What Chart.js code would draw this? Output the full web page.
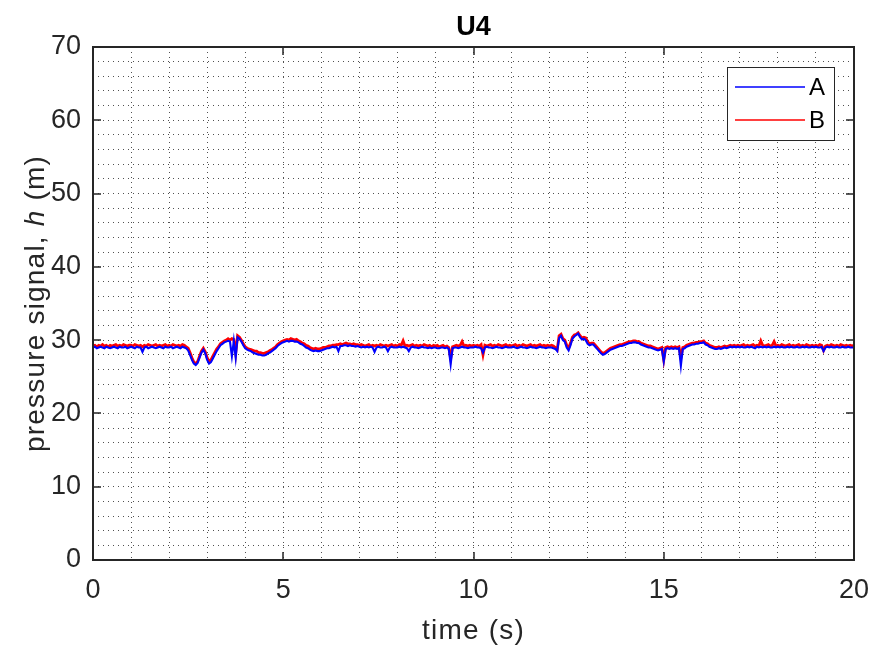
<!DOCTYPE html>
<html>
<head>
<meta charset="utf-8">
<script src="https://cdn.jsdelivr.net/npm/chart.js@4.4.1/dist/chart.umd.min.js"></script>
<style>
  html, body { margin: 0; padding: 0; background: #fff; }
  #wrap { width: 872px; height: 650px; }
</style>
</head>
<body>
<div id="wrap"><canvas id="chart" width="872" height="650"></canvas></div>
<script>
// Pressure signal at U4, two sensors, sampled every 0.05 s from 0 to 20 s
const chartTitle = 'U4';
const seriesNames = ['A', 'B'];
const seriesColors = ['#0000ff', '#ff0000'];
const sampleStep = 0.05;
const xTicksMajor = [0, 5, 10, 15, 20];
const yTicksMajor = [0, 10, 20, 30, 40, 50, 60, 70];

// sensor A (blue), one row per second
const valuesA = [
  29.0,29.1,28.9,29.0,29.1,29.0,28.9,29.1,29.0,28.9,29.0,29.1,29.0,28.9,29.1,29.0,29.0,29.1,28.9,29.0,
  29.1,29.0,28.9,29.1,29.0,29.0,28.4,29.0,29.1,28.9,29.0,29.1,29.0,28.9,29.0,29.1,29.0,28.9,29.1,29.0,
  29.0,29.1,28.9,29.0,29.1,29.0,28.9,29.1,29.0,28.9,28.6,28.0,27.3,26.8,26.6,26.9,27.6,28.3,28.7,28.2,
  27.3,26.8,27.0,27.5,28.0,28.5,28.9,29.3,29.5,29.7,29.8,29.9,29.8,27.8,29.9,27.6,30.4,30.2,29.8,29.3,
  28.9,28.7,28.6,28.5,28.3,28.2,28.1,28.0,28.0,27.9,27.9,28.0,28.2,28.3,28.5,28.7,28.9,29.2,29.4,29.6,
  29.7,29.8,29.9,29.8,29.9,29.9,29.8,29.8,29.7,29.5,29.4,29.2,29.0,28.9,28.7,28.6,28.5,28.6,28.5,28.5,
  28.6,28.7,28.8,28.9,28.9,29.0,29.1,29.0,29.1,28.5,29.2,29.2,29.3,29.3,29.2,29.3,29.2,29.2,29.1,29.2,
  29.1,29.0,29.1,29.0,29.1,29.0,29.1,29.0,28.4,29.0,29.1,29.0,29.0,29.1,29.0,28.5,29.0,29.1,29.0,29.0,
  29.0,29.1,29.0,29.1,29.0,28.9,28.5,29.0,29.1,29.0,29.0,28.9,29.0,29.1,29.0,29.0,28.9,29.0,28.9,29.0,
  29.0,28.9,28.9,29.0,29.0,28.9,29.0,28.8,26.7,28.9,29.0,29.0,28.9,29.0,29.1,29.0,29.0,28.9,29.0,29.0,
  29.0,29.1,29.0,29.0,28.9,28.3,29.0,29.1,29.0,29.0,28.9,29.0,29.1,29.0,29.0,28.9,29.0,29.1,29.0,29.0,
  29.0,29.1,29.0,28.9,29.0,29.1,29.0,29.0,28.9,29.0,29.1,29.0,29.0,28.9,29.0,29.1,29.0,29.0,28.9,29.0,
  29.0,29.0,28.9,28.8,28.5,30.3,30.6,30.0,29.8,29.0,28.6,29.3,30.2,30.5,30.7,30.9,30.4,30.1,30.2,30.0,
  29.5,29.3,29.4,29.4,29.1,28.8,28.5,28.2,28.0,28.1,28.3,28.5,28.7,28.8,28.9,29.0,29.1,29.2,29.2,29.3,
  29.4,29.5,29.6,29.6,29.7,29.7,29.6,29.6,29.4,29.3,29.2,29.1,29.0,29.0,28.9,28.8,28.7,28.6,28.7,28.8,
  27.1,28.8,28.9,28.8,28.9,28.8,28.9,28.8,28.9,26.5,28.8,28.9,29.1,29.2,29.3,29.4,29.4,29.5,29.5,29.6,
  29.6,29.7,29.4,29.3,29.1,29.0,28.9,28.8,28.8,28.9,28.8,28.9,29.0,28.9,29.0,29.1,29.0,29.1,29.0,29.1,
  29.0,29.1,29.0,29.0,29.1,29.0,29.1,29.0,28.9,29.1,29.0,29.1,29.0,29.1,29.0,29.1,29.0,29.0,29.1,29.0,
  29.1,29.0,29.1,29.0,29.0,29.1,29.0,29.1,29.0,29.0,29.1,29.0,29.0,29.1,29.0,29.1,29.0,29.0,29.1,29.0,
  29.1,29.0,29.0,29.1,28.5,29.0,29.1,29.0,29.1,29.0,29.0,29.1,29.0,29.0,29.1,29.0,29.0,29.1,29.0,29.0,
  29.0
];

// sensor B (red), one row per second
const valuesB = [
  29.2,29.3,29.1,29.3,29.2,29.4,29.2,29.3,29.1,29.3,29.2,29.3,29.4,29.2,29.3,29.2,29.4,29.3,29.2,29.3,
  29.3,29.2,29.4,29.3,29.2,29.3,29.1,29.3,29.2,29.4,29.3,29.2,29.3,29.4,29.2,29.3,29.2,29.3,29.4,29.2,
  29.3,29.2,29.4,29.3,29.2,29.3,29.2,29.4,29.3,29.1,28.9,28.3,27.6,27.0,26.8,27.1,27.8,28.5,28.9,28.4,
  27.6,27.1,27.3,27.8,28.3,28.8,29.1,29.5,29.7,29.9,30.0,30.2,30.0,30.2,30.1,28.2,30.6,30.4,30.0,29.5,
  29.1,28.9,28.8,28.7,28.6,28.5,28.5,28.3,28.3,28.2,28.2,28.3,28.4,28.6,28.7,28.9,29.1,29.4,29.6,29.8,
  29.9,30.0,30.1,30.0,30.2,30.1,30.0,30.1,29.9,29.8,29.6,29.5,29.3,29.2,29.0,28.9,28.8,28.9,28.8,28.8,
  28.9,29.0,29.0,29.1,29.2,29.2,29.3,29.3,29.4,29.4,29.5,29.4,29.5,29.6,29.5,29.5,29.4,29.5,29.4,29.4,
  29.3,29.4,29.3,29.2,29.3,29.4,29.2,29.3,29.2,29.3,29.2,29.4,29.3,29.2,29.3,29.2,29.3,29.4,29.2,29.3,
  29.2,29.4,29.3,29.9,29.2,29.3,29.2,29.3,29.4,29.2,29.3,29.2,29.3,29.2,29.4,29.3,29.2,29.3,29.1,29.3,
  29.2,29.3,29.1,29.2,29.3,29.1,29.2,29.0,27.5,29.1,29.2,29.3,29.2,29.3,29.8,29.2,29.3,29.2,29.3,29.2,
  29.3,29.2,29.3,29.2,29.4,28.0,29.3,29.2,29.3,29.4,29.2,29.3,29.2,29.4,29.3,29.2,29.3,29.4,29.2,29.3,
  29.2,29.3,29.4,29.2,29.3,29.2,29.4,29.3,29.2,29.3,29.4,29.2,29.3,29.2,29.3,29.4,29.2,29.3,29.2,29.3,
  29.2,29.3,29.2,29.0,28.7,30.6,30.8,30.2,30.0,29.3,28.9,29.6,30.4,30.7,30.8,31.0,30.6,30.3,30.4,30.3,
  29.8,29.5,29.6,29.6,29.3,29.0,28.7,28.4,28.2,28.3,28.5,28.7,28.9,29.0,29.1,29.2,29.3,29.4,29.4,29.5,
  29.6,29.7,29.8,29.8,29.9,29.9,29.8,29.8,29.6,29.5,29.4,29.3,29.2,29.2,29.1,29.0,28.9,28.8,28.9,29.0,
  27.3,29.0,29.1,29.0,29.1,29.0,29.1,29.0,29.1,27.6,29.0,29.1,29.3,29.4,29.5,29.6,29.6,29.7,29.7,29.8,
  29.8,29.9,29.6,29.5,29.3,29.2,29.1,29.0,29.0,29.1,29.0,29.1,29.2,29.1,29.2,29.3,29.2,29.3,29.2,29.3,
  29.2,29.3,29.4,29.2,29.3,29.2,29.3,29.4,29.2,29.3,29.2,29.9,29.3,29.2,29.3,29.4,29.2,29.3,29.8,29.2,
  29.3,29.2,29.4,29.3,29.2,29.3,29.4,29.2,29.3,29.2,29.3,29.4,29.2,29.3,29.2,29.4,29.3,29.2,29.3,29.2,
  29.3,29.2,29.4,29.3,28.6,29.2,29.3,29.2,29.4,29.3,29.2,29.3,29.2,29.4,29.3,29.2,29.3,29.2,29.3,29.2,
  29.3
];

const FONT = '"Liberation Sans", Arial, Helvetica, sans-serif';
const INK = '#262626';

const toPoints = (values) => values.map((v, i) => ({ x: +(i * sampleStep).toFixed(2), y: v }));

// Box, inward ticks, title, axis labels and legend, MATLAB style
const matlabFrame = {
  id: 'matlabFrame',
  afterDraw: (chart) => {
    const { ctx, chartArea: a, scales } = chart;
    const tickLen = 8;
    ctx.save();

    // legend
    const lx = 727.5, ly = 67.5, lw = 107, lh = 73;
    ctx.fillStyle = '#fff';
    ctx.fillRect(lx, ly, lw, lh);
    ctx.strokeStyle = INK;
    ctx.lineWidth = 1;
    ctx.strokeRect(lx, ly, lw, lh);
    ctx.font = '24px ' + FONT;
    ctx.textBaseline = 'middle';
    ctx.textAlign = 'left';
    chart.data.datasets.forEach((ds, i) => {
      const yy = 87 + i * 33;
      ctx.strokeStyle = ds.borderColor;
      ctx.lineWidth = 1.5;
      ctx.beginPath();
      ctx.moveTo(735, yy);
      ctx.lineTo(805, yy);
      ctx.stroke();
      ctx.fillStyle = '#000';
      ctx.fillText(ds.label, 809, yy + 1);
    });

    // axes box
    ctx.strokeStyle = INK;
    ctx.lineWidth = 2;
    ctx.strokeRect(a.left, a.top, a.right - a.left, a.bottom - a.top);

    // inward tick marks at major ticks
    ctx.lineWidth = 1.5;
    ctx.beginPath();
    xTicksMajor.forEach((v) => {
      const px = Math.round(scales.x.getPixelForValue(v));
      ctx.moveTo(px, a.bottom); ctx.lineTo(px, a.bottom - tickLen);
      ctx.moveTo(px, a.top); ctx.lineTo(px, a.top + tickLen);
    });
    yTicksMajor.forEach((v) => {
      const py = Math.round(scales.y.getPixelForValue(v));
      ctx.moveTo(a.left, py); ctx.lineTo(a.left + tickLen, py);
      ctx.moveTo(a.right, py); ctx.lineTo(a.right - tickLen, py);
    });
    ctx.stroke();

    // title
    ctx.fillStyle = '#000';
    ctx.textAlign = 'center';
    ctx.textBaseline = 'middle';
    ctx.font = 'bold 27px ' + FONT;
    ctx.fillText(chartTitle, (a.left + a.right) / 2, 28);

    // axis labels are a little wider-set in the original
    ctx.letterSpacing = '1.2px';

    // x axis label
    ctx.fillStyle = INK;
    ctx.font = '28px ' + FONT;
    ctx.fillText('time (s)', (a.left + a.right) / 2, 631);

    // y axis label with italic h
    const parts = [
      { t: 'pressure signal, ', f: '28px ' + FONT },
      { t: 'h', f: 'italic 28px ' + FONT },
      { t: ' (m)', f: '28px ' + FONT }
    ];
    let total = 0;
    parts.forEach((p) => { ctx.font = p.f; p.w = ctx.measureText(p.t).width; total += p.w; });
    ctx.translate(36, (a.top + a.bottom) / 2);
    ctx.rotate(-Math.PI / 2);
    ctx.textAlign = 'left';
    let cx = -total / 2;
    parts.forEach((p) => { ctx.font = p.f; ctx.fillText(p.t, cx, 0); cx += p.w; });

    ctx.restore();
  }
};

const gridStyle = {
  color: 'rgba(38, 38, 38, 0.8)',
  lineWidth: 1,
  drawTicks: false
};

new Chart(document.getElementById('chart'), {
  type: 'line',
  data: {
    datasets: [
      {
        label: seriesNames[0],
        data: toPoints(valuesA),
        borderColor: seriesColors[0],
        borderWidth: 2.1,
        pointRadius: 0,
        tension: 0
      },
      {
        label: seriesNames[1],
        data: toPoints(valuesB),
        borderColor: seriesColors[1],
        borderWidth: 2.8,
        pointRadius: 0,
        tension: 0
      }
    ]
  },
  options: {
    responsive: false,
    animation: false,
    devicePixelRatio: 1,
    layout: { padding: { left: 0, top: 47, right: 18, bottom: 0 } },
    plugins: {
      legend: { display: false },
      title: { display: false },
      tooltip: { enabled: false }
    },
    scales: {
      x: {
        type: 'linear',
        min: 0,
        max: 20,
        grid: gridStyle,
        border: { display: false, dash: [1, 4] },
        ticks: {
          stepSize: 1,
          autoSkip: false,
          maxRotation: 0,
          padding: 14,
          color: INK,
          font: { family: FONT, size: 27 },
          callback: (v) => (v % 5 === 0 ? v : '')
        },
        afterFit: (scale) => {
          scale.height = 90;
          scale.paddingLeft = 0;
          scale.paddingRight = 0;
        }
      },
      y: {
        type: 'linear',
        min: 0,
        max: 70,
        grid: gridStyle,
        border: { display: false, dash: [1, 4] },
        ticks: {
          stepSize: 2,
          autoSkip: false,
          padding: 12,
          color: INK,
          font: { family: FONT, size: 27 },
          callback: (v) => (v % 10 === 0 ? v : '')
        },
        afterFit: (scale) => {
          scale.width = 93;
          scale.paddingTop = 0;
          scale.paddingBottom = 0;
        }
      }
    }
  },
  plugins: [matlabFrame]
});
</script>
</body>
</html>
